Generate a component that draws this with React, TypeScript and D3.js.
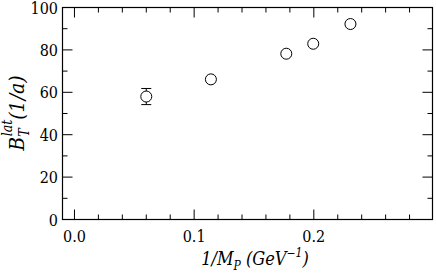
import React from 'react';
import * as d3 from 'd3';

const xVals = [0.06, 0.114, 0.177, 0.1995, 0.2306];
const yVals = [58.0, 66.1, 78.2, 82.9, 92.2];
const yErrs = [3.8, 1.0, 1.0, 1.0, 1.0];
const xMajor = [0.0, 0.1, 0.2];
const yMajor = [0, 20, 40, 60, 80, 100];

const W = 436;
const H = 280;
const margin = { top: 7.5, right: 3.5, bottom: 60.5, left: 62.5 };
const FONT = "'DejaVu Serif Condensed', 'DejaVu Serif'";

const App = () => {
  const x = d3.scaleLinear().domain([-0.01, 0.29917]).range([margin.left, W - margin.right]);
  const y = d3.scaleLinear().domain([0, 100]).range([H - margin.bottom, margin.top]);

  const xMinor = d3.range(0, 0.29, 0.02).filter(v => !xMajor.some(m => Math.abs(m - v) < 1e-6));
  const yMinor = d3.range(10, 100, 20);

  const x0 = margin.left, x1 = W - margin.right;
  const y0 = H - margin.bottom, y1 = margin.top;
  const major = 10, minor = 5;

  return (
    <svg width={W} height={H} style={{ position: 'absolute', left: 0, top: 0 }}>
      <rect x={0} y={0} width={W} height={H} fill="#fff" />
      <g stroke="#000" strokeWidth={1} fill="none">
        {/* x ticks bottom & top */}
        {xMajor.map(v => (
          <g key={'xm' + v}>
            <line x1={x(v)} x2={x(v)} y1={y0} y2={y0 - major} />
            <line x1={x(v)} x2={x(v)} y1={y1} y2={y1 + major} />
          </g>
        ))}
        {xMinor.map(v => (
          <g key={'xn' + v}>
            <line x1={x(v)} x2={x(v)} y1={y0} y2={y0 - minor} />
            <line x1={x(v)} x2={x(v)} y1={y1} y2={y1 + minor} />
          </g>
        ))}
        {/* y ticks left & right */}
        {yMajor.map(v => (
          <g key={'ym' + v}>
            <line x1={x0} x2={x0 + major} y1={y(v)} y2={y(v)} />
            <line x1={x1} x2={x1 - major} y1={y(v)} y2={y(v)} />
          </g>
        ))}
        {yMinor.map(v => (
          <g key={'yn' + v}>
            <line x1={x0} x2={x0 + minor} y1={y(v)} y2={y(v)} />
            <line x1={x1} x2={x1 - minor} y1={y(v)} y2={y(v)} />
          </g>
        ))}
        <rect x={x0} y={y1} width={x1 - x0} height={y0 - y1} strokeWidth={1.2} />
      </g>

      {/* tick labels */}
      <g fill="#000">
        {xMajor.map(v => (
          <text key={'xl' + v} x={x(v)} y={242} textAnchor="middle" style={{ fontFamily: FONT, fontSize: 16 }}>
            {d3.format('.1f')(v)}
          </text>
        ))}
        {yMajor.map(v => (
          <text key={'yl' + v} x={58} y={y(v) + 6} textAnchor="end" style={{ fontFamily: FONT, fontSize: 16 }}>
            {v}
          </text>
        ))}
      </g>

      {/* data */}
      <g stroke="#000" strokeWidth={1} fill="none">
        {xVals.map((xv, i) => {
          const cx = x(xv), cy = y(yVals[i]);
          const top = y(yVals[i] + yErrs[i]), bot = y(yVals[i] - yErrs[i]);
          return (
            <g key={'p' + i}>
              <line x1={cx} x2={cx} y1={top} y2={bot} />
              <line x1={cx - 5} x2={cx + 5} y1={top} y2={top} />
              <line x1={cx - 5} x2={cx + 5} y1={bot} y2={bot} />
              <circle cx={cx} cy={cy} r={5.5} fill="#fff" />
            </g>
          );
        })}
      </g>

      {/* axis titles */}
      <text x={255} y={265} textAnchor="middle" style={{ fontFamily: FONT, fontSize: 18, fontStyle: 'italic' }}>
        1/M<tspan fontSize={12} dy={5}>P</tspan>
        <tspan dy={-5}> (GeV</tspan>
        <tspan fontSize={12} dy={-8}>{'\u22121'}</tspan>
        <tspan dy={8}>)</tspan>
      </text>
      <text
        transform={`translate(24,${113}) rotate(-90)`}
        textAnchor="middle"
        style={{ fontFamily: FONT, fontSize: 21, fontStyle: 'italic' }}
      >
        B<tspan fontSize={14} dy={5}>T</tspan>
        <tspan fontSize={14} dx={-8} dy={-17}>lat</tspan>
        <tspan dy={12}>(1/a)</tspan>
      </text>
    </svg>
  );
};

export default App;
